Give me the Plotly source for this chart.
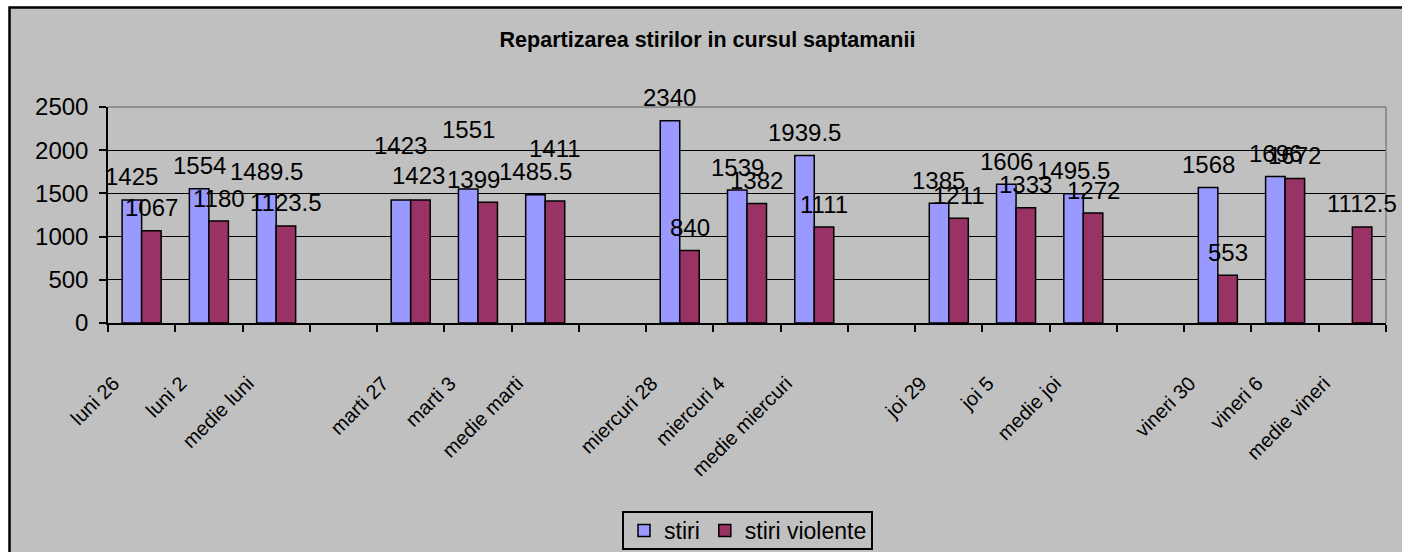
import plotly.graph_objects as go

# ---- data ----
categories = ["luni 26", "luni 2", "medie luni", " ",
              "marti 27", "marti 3", "medie marti", "  ",
              "miercuri 28", "miercuri 4", "medie miercuri", "   ",
              "joi 29", "joi 5", "medie joi", "    ",
              "vineri 30", "vineri 6", "medie vineri"]
stiri = [1425, 1554, 1489.5, None, 1423, 1551, 1485.5, None,
         2340, 1539, 1939.5, None, 1385, 1606, 1495.5, None,
         1568, 1696, None]
stiri_violente = [1067, 1180, 1123.5, None, 1423, 1399, 1411, None,
                  840, 1382, 1111, None, 1211, 1333, 1272, None,
                  553, 1672, 1112.5]
series_names = ["stiri", "stiri violente"]
title_text = "Repartizarea stirilor in cursul saptamanii"

# ---- style ----
FONT = "Liberation Sans"
GREY = "#C0C0C0"
colors = ["#9999FF", "#993366"]
# label lift above bar top (px), per category
lift_stiri = [23, 23, 23, 23, 55, 59, 23, 23, 23, 23, 23, 23, 23, 23, 23, 23, 23, 23, 23]
lift_viol = [23, 23, 23, 23, 25, 23, 53, 23, 23, 23, 23, 23, 23, 23, 23, 23, 23, 23, 23]
nudge_viol = [0, 0, 0, 0, -2, -14, 0, 0, 0, 0, 0, 0, 0, 0, 0, 0, 0, 0, 0]
BAR_HALF = 9.8

W, H = 1402, 552
PW, PH, ML, MT = 1278, 216, 108, 107

fig = go.Figure()
for name, vals, col in zip(series_names, [stiri, stiri_violente], colors):
    fig.add_trace(go.Bar(x=categories, y=vals, name=name,
                         marker=dict(color=col, line=dict(color="black", width=1.5)),
                         hoverinfo="skip"))

annotations = []
for i, v in enumerate(stiri):
    if v is None:
        continue
    annotations.append(dict(x=categories[i], y=v, xref="x", yref="y",
                            text=f"{v:g}", showarrow=False,
                            xshift=-BAR_HALF, yshift=lift_stiri[i],
                            yanchor="middle", xanchor="center",
                            font=dict(family=FONT, size=24, color="black")))
for i, v in enumerate(stiri_violente):
    if v is None:
        continue
    annotations.append(dict(x=categories[i], y=v, xref="x", yref="y",
                            text=f"{v:g}", showarrow=False,
                            xshift=BAR_HALF + nudge_viol[i], yshift=lift_viol[i],
                            yanchor="middle", xanchor="center",
                            font=dict(family=FONT, size=24, color="black")))


def px_x(p):
    return (p - ML) / PW


def px_y(p):
    return 1 - (p - MT) / PH


shapes = [
    # chart area frame (left/top visible, right/bottom beyond the window)
    dict(type="rect", xref="paper", yref="paper",
         x0=px_x(9.5), x1=px_x(W + 40), y0=px_y(H + 40), y1=px_y(7.5),
         fillcolor=GREY, line=dict(color="black", width=2.5), layer="below"),
    # grey plot-area border on top and right
    dict(type="line", xref="paper", yref="paper", x0=0, x1=1, y0=1, y1=1,
         line=dict(color="#808080", width=1.5), layer="above"),
    dict(type="line", xref="paper", yref="paper", x0=1, x1=1, y0=0, y1=1,
         line=dict(color="#808080", width=1.5), layer="above"),
    # legend box
    dict(type="rect", xref="paper", yref="paper",
         x0=px_x(623), x1=px_x(872), y0=px_y(549), y1=px_y(512),
         fillcolor=GREY, line=dict(color="black", width=2), layer="below"),
]

fig.update_layout(
    width=W, height=H,
    margin=dict(l=ML, r=W - ML - PW, t=MT, b=H - MT - PH, autoexpand=False),
    paper_bgcolor="white", plot_bgcolor=GREY,
    font=dict(family=FONT, size=24, color="black"),
    barmode="group", bargap=0.42, bargroupgap=0,
    title=dict(text=title_text, x=707.5 / W, xref="container", xanchor="center",
               y=1 - 39 / H, yref="container", yanchor="middle",
               font=dict(family=FONT, size=21.5, color="black", weight="bold")),
    legend=dict(orientation="h", x=px_x(748), xanchor="center",
                y=px_y(530.5), yanchor="middle",
                bgcolor="rgba(0,0,0,0)", borderwidth=0,
                font=dict(family=FONT, size=23, color="black"),
                itemclick=False, itemdoubleclick=False),
    annotations=annotations,
    shapes=shapes,
    showlegend=True,
)
fig.update_xaxes(type="category", categoryorder="array", categoryarray=categories,
                 range=[-0.5, len(categories) - 0.5], autorange=False,
                 tickangle=-45, tickfont=dict(family=FONT, size=20, color="black"),
                 ticks="outside", tickson="boundaries", ticklen=7, tickwidth=1.5,
                 tickcolor="black", showline=True, linecolor="black", linewidth=1.5,
                 showgrid=False, ticklabelstandoff=39, ticklabelshift=-28,
                 automargin=False)
fig.update_yaxes(range=[0, 2500], autorange=False, tick0=0, dtick=500,
                 tickfont=dict(family=FONT, size=24, color="black"),
                 ticks="outside", ticklen=7, tickwidth=1.5, tickcolor="black",
                 showline=True, linecolor="black", linewidth=1.5,
                 showgrid=True, gridcolor="black", gridwidth=1.3,
                 zeroline=False, ticklabelstandoff=6, automargin=False)

# the figure fills the window exactly: no page margin, no scrollbars
fig.write_html(
    "out.html",
    config={"displayModeBar": False},
    post_script="document.body.style.margin='0';"
                "document.documentElement.style.overflow='hidden';"
                "document.body.style.overflow='hidden';",
)
